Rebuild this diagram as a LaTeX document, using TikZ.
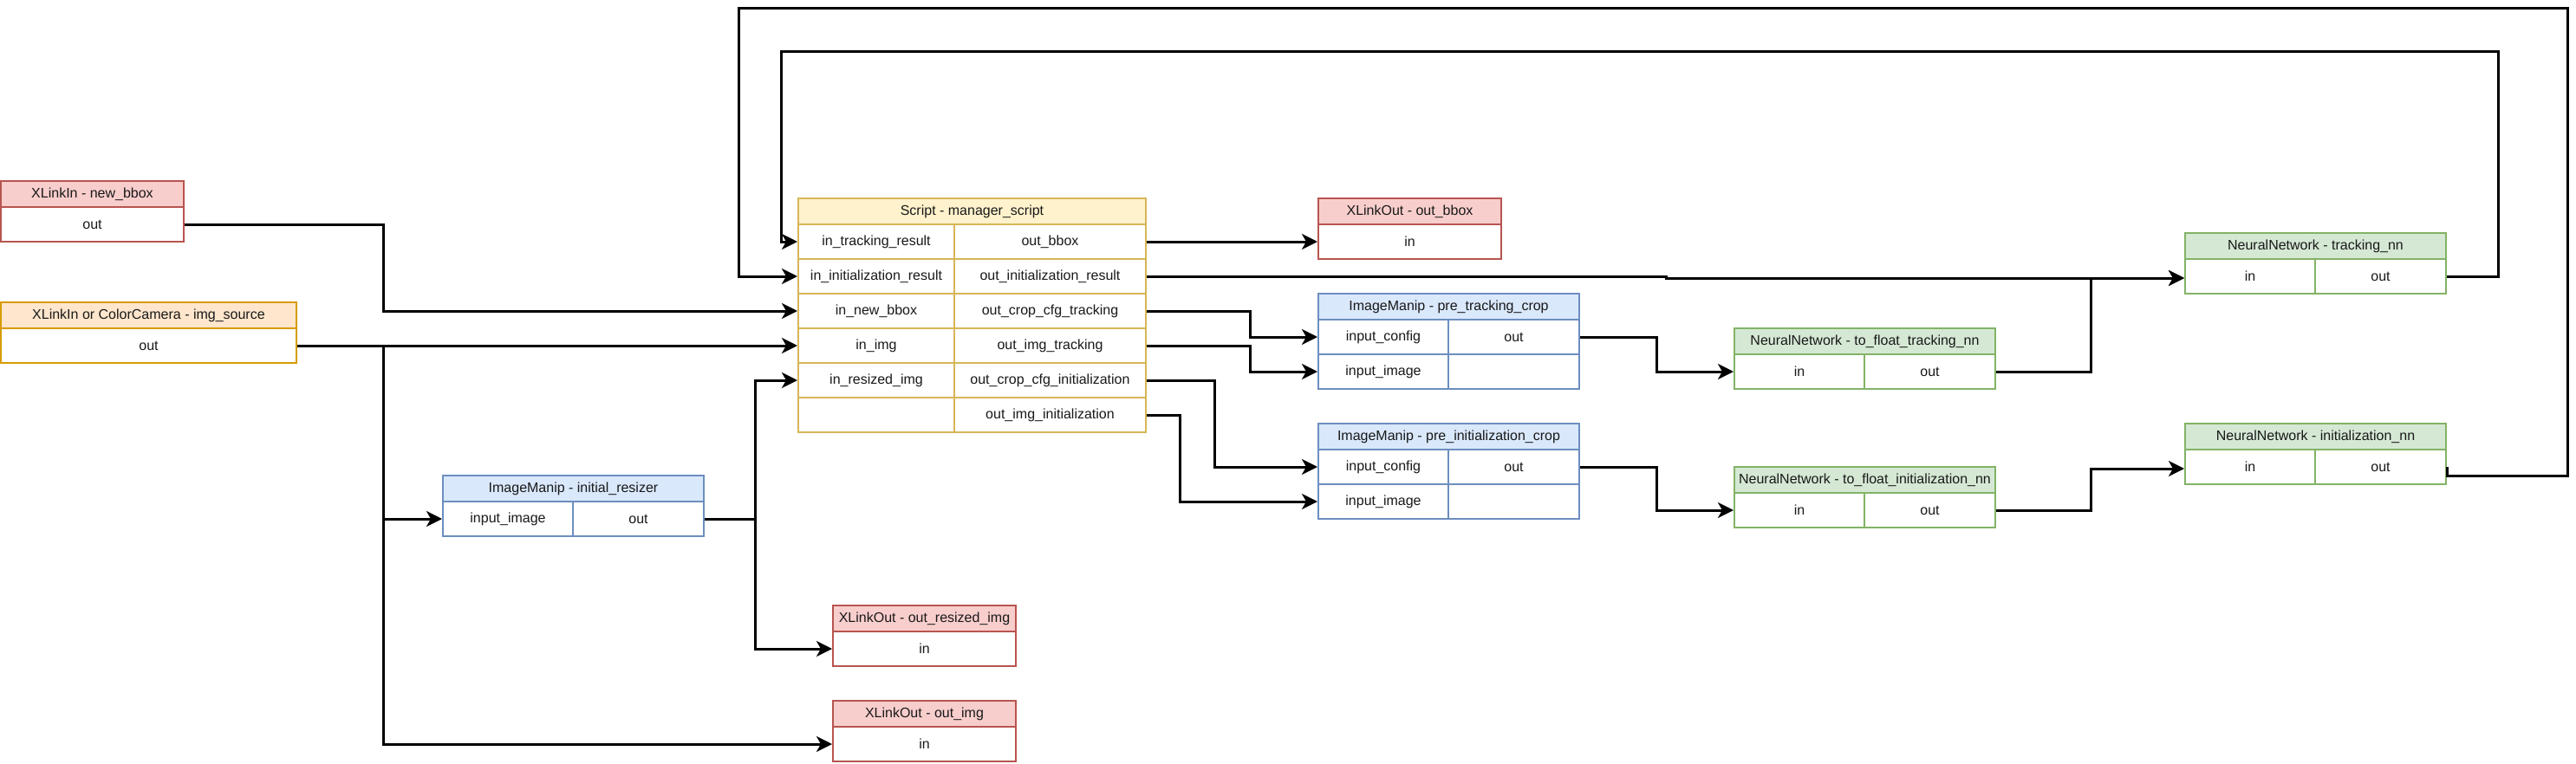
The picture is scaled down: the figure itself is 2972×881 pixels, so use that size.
\documentclass[tikz,border=0pt]{standalone}
\usepackage{fontspec}
\setmainfont{Liberation Sans}
\usetikzlibrary{arrows.meta,calc}
\definecolor{rdS}{HTML}{B85450}
\definecolor{rdF}{HTML}{F8CECC}
\definecolor{orS}{HTML}{D79B00}
\definecolor{orF}{HTML}{FFE6CC}
\definecolor{ylS}{HTML}{D6B656}
\definecolor{ylF}{HTML}{FFF2CC}
\definecolor{blS}{HTML}{6C8EBF}
\definecolor{blF}{HTML}{DAE8FC}
\definecolor{grS}{HTML}{82B366}
\definecolor{grF}{HTML}{D5E8D4}
\newcommand\mycell[7]{\node[#1, minimum width={#5-#3}, minimum height={#6-#4}] (#2) at ({(#3+#5)/2},{(#4+#6)/2}) {#7};}
\tikzset{
  cellbase/.style={draw, line width=2pt, inner sep=0pt, font=\fontsize{16}{19}\selectfont, text=black!90},
  rh/.style={cellbase, draw=rdS, fill=rdF}, rc/.style={cellbase, draw=rdS, fill=white},
  oh/.style={cellbase, draw=orS, fill=orF}, oc/.style={cellbase, draw=orS, fill=white},
  yh/.style={cellbase, draw=ylS, fill=ylF}, yc/.style={cellbase, draw=ylS, fill=white},
  bh/.style={cellbase, draw=blS, fill=blF}, bc/.style={cellbase, draw=blS, fill=white},
  gh/.style={cellbase, draw=grS, fill=grF}, gc/.style={cellbase, draw=grS, fill=white},
  conn/.style={line width=3pt, -{Stealth[length=18pt,width=18pt,inset=5pt]}},
}
\begin{document}
\begin{tikzpicture}[x=1pt,y=-1pt]
\useasboundingbox[fill=white] (0,0) rectangle (2972,881);
% lanes
\coordinate (xA) at (442,0);
\coordinate (xB) at (871,0);
\coordinate (xC) at (1442,0);
\coordinate (xD) at (1401,0);
\coordinate (xE) at (1361,0);
\coordinate (xF) at (1911,0);
\coordinate (xG) at (2412,0);
\coordinate (xH) at (1922,0);
\coordinate (xR1) at (2882,0);
\coordinate (xR2) at (2962,0);
\coordinate (xL1) at (901,0);
\coordinate (xL2) at (852,0);
\coordinate (yT1) at (0,59);
\coordinate (yT2) at (0,9);
% XLinkIn new_bbox
\mycell{rh}{nb}{1}{209}{212}{239}{XLinkIn - new\_bbox}
\mycell{rc}{nbout}{1}{239}{212}{279}{out}
% img_source
\mycell{oh}{is}{1}{349}{342}{379}{XLinkIn or ColorCamera - img\_source}
\mycell{oc}{isout}{1}{379}{342}{419}{out}
% Script
\mycell{yh}{ms}{921}{229}{1322}{259}{Script - manager\_script}
\mycell{yc}{msin1}{921}{259}{1101}{299}{in\_tracking\_result}
\mycell{yc}{msout1}{1101}{259}{1322}{299}{out\_bbox}
\mycell{yc}{msin2}{921}{299}{1101}{339}{in\_initialization\_result}
\mycell{yc}{msout2}{1101}{299}{1322}{339}{out\_initialization\_result}
\mycell{yc}{msin3}{921}{339}{1101}{379}{in\_new\_bbox}
\mycell{yc}{msout3}{1101}{339}{1322}{379}{out\_crop\_cfg\_tracking}
\mycell{yc}{msin4}{921}{379}{1101}{419}{in\_img}
\mycell{yc}{msout4}{1101}{379}{1322}{419}{out\_img\_tracking}
\mycell{yc}{msin5}{921}{419}{1101}{459}{in\_resized\_img}
\mycell{yc}{msout5}{1101}{419}{1322}{459}{out\_crop\_cfg\_initialization}
\mycell{yc}{msin6}{921}{459}{1101}{499}{}
\mycell{yc}{msout6}{1101}{459}{1322}{499}{out\_img\_initialization}
% out_bbox
\mycell{rh}{ob}{1521}{229}{1732}{259}{XLinkOut - out\_bbox}
\mycell{rc}{obin}{1521}{259}{1732}{299}{in}
% pre_tracking_crop
\mycell{bh}{ptc}{1521}{339}{1822}{369}{ImageManip - pre\_tracking\_crop}
\mycell{bc}{ptccfg}{1521}{369}{1671}{409}{input\_config}
\mycell{bc}{ptcout}{1671}{369}{1822}{409}{out}
\mycell{bc}{ptcimg}{1521}{409}{1671}{449}{input\_image}
\mycell{bc}{ptcempty}{1671}{409}{1822}{449}{}
% pre_initialization_crop
\mycell{bh}{pic}{1521}{489}{1822}{519}{ImageManip - pre\_initialization\_crop}
\mycell{bc}{piccfg}{1521}{519}{1671}{559}{input\_config}
\mycell{bc}{picout}{1671}{519}{1822}{559}{out}
\mycell{bc}{picimg}{1521}{559}{1671}{599}{input\_image}
\mycell{bc}{picempty}{1671}{559}{1822}{599}{}
% to_float_tracking_nn
\mycell{gh}{ftn}{2001}{379}{2302}{409}{NeuralNetwork - to\_float\_tracking\_nn}
\mycell{gc}{ftnin}{2001}{409}{2151}{449}{in}
\mycell{gc}{ftnout}{2151}{409}{2302}{449}{out}
% to_float_initialization_nn
\mycell{gh}{fin}{2001}{539}{2302}{569}{NeuralNetwork - to\_float\_initialization\_nn}
\mycell{gc}{finin}{2001}{569}{2151}{609}{in}
\mycell{gc}{finout}{2151}{569}{2302}{609}{out}
% tracking_nn
\mycell{gh}{tn}{2521}{269}{2822}{299}{NeuralNetwork - tracking\_nn}
\mycell{gc}{tnin}{2521}{299}{2671}{339}{in}
\mycell{gc}{tnout}{2671}{299}{2822}{339}{out}
% initialization_nn
\mycell{gh}{inn}{2521}{489}{2822}{519}{NeuralNetwork - initialization\_nn}
\mycell{gc}{innin}{2521}{519}{2671}{559}{in}
\mycell{gc}{innout}{2671}{519}{2822}{559}{out}
% initial_resizer
\mycell{bh}{ir}{511}{549}{812}{579}{ImageManip - initial\_resizer}
\mycell{bc}{irin}{511}{579}{661}{619}{input\_image}
\mycell{bc}{irout}{661}{579}{812}{619}{out}
% out_resized_img
\mycell{rh}{ori}{961}{699}{1172}{729}{XLinkOut - out\_resized\_img}
\mycell{rc}{oriin}{961}{729}{1172}{769}{in}
% out_img
\mycell{rh}{oi}{961}{809}{1172}{839}{XLinkOut - out\_img}
\mycell{rc}{oiin}{961}{839}{1172}{879}{in}
% connectors
\draw[conn] (nbout.east) -| (xA |- msin3.west) -- (msin3.west);
\draw[conn] (isout.east) -- (msin4.west);
\draw[conn] (xA |- isout.east) |- (irin.west);
\draw[conn] (xA |- isout.east) |- (oiin.west);
\draw[conn] (irout.east) -| (xB |- msin5.west) -- (msin5.west);
\draw[conn] (xB |- irout.east) |- (oriin.west);
\draw[conn] (msout1.east) -- (obin.west);
\draw[conn] (msout2.east) -- (xH |- msout2.east) -- ($(xH |- tnin.west)+(0,2)$) -- ($(tnin.west)+(0,2)$);
\draw[conn] (msout3.east) -| (xC |- ptccfg.west) -- (ptccfg.west);
\draw[conn] (msout4.east) -| (xC |- ptcimg.west) -- (ptcimg.west);
\draw[conn] (msout5.east) -| (xD |- piccfg.west) -- (piccfg.west);
\draw[conn] (msout6.east) -| (xE |- picimg.west) -- (picimg.west);
\draw[conn] (ptcout.east) -| (xF |- ftnin.west) -- (ftnin.west);
\draw[conn] (picout.east) -| (xF |- finin.west) -- (finin.west);
\draw[conn] (ftnout.east) -| ($(xG |- tnin.west)+(0,2)$) -- ($(tnin.west)+(0,2)$);
\draw[conn] (finout.east) -| ($(xG |- innin.west)+(0,2)$) -- ($(innin.west)+(0,2)$);
\draw[conn] (tnout.east) -| (xR1 |- yT1) -| (xL1 |- msin1.west) -- (msin1.west);
\draw[conn] (innout.east) -- ($(innout.east)+(0,10)$) -| (xR2 |- yT2) -| (xL2 |- msin2.west) -- (msin2.west);
\end{tikzpicture}
\end{document}
